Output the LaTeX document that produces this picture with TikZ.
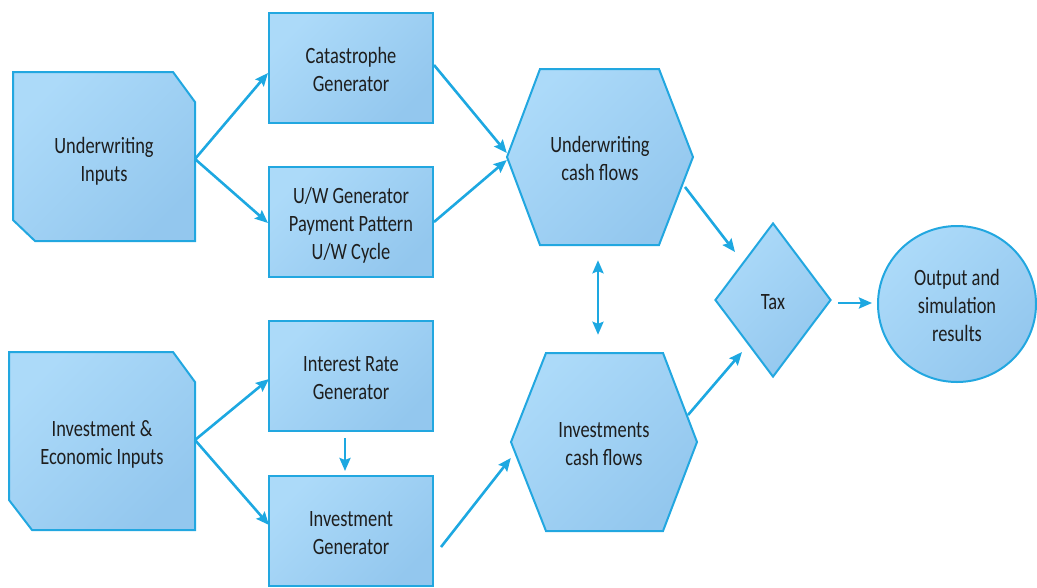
\documentclass[tikz,border=0pt]{standalone}
\usepackage{fontspec}
\setmainfont{Carlito}
\usepackage{graphicx}
\usetikzlibrary{arrows.meta,shapes.geometric,calc}

\definecolor{fillA}{HTML}{ACDAF9}
\definecolor{fillB}{HTML}{93C7EE}
\definecolor{edge}{HTML}{22A7E0}
\definecolor{flow}{HTML}{1DA8E1}
\definecolor{ink}{HTML}{1E1E1E}

% text is set a little taller than wide, and sits slightly low in its block
\newcommand\tallText[1]{\raisebox{0pt}[\dimexpr\height+8pt\relax][\depth]{%
  \scalebox{1}[1.27]{\begin{tabular}{@{}c@{}}#1\end{tabular}}}}

\tikzset{
  blockfill/.style={top color=fillA, bottom color=fillB, shading angle=45},
  block/.style={blockfill, draw=edge, line width=2pt},
  label/.style={inner sep=0pt, text=ink, font=\fontsize{18.4}{22}\selectfont},
  genbox/.style={block, label, rectangle, minimum width=164pt, minimum height=110pt},
  flowarrow/.style={draw=flow, line width=2.6pt,
    -{Stealth[length=13pt,width=11pt,inset=2pt]}},
  bothways/.style={draw=flow, line width=2.6pt,
    {Stealth[length=13pt,width=11pt,inset=2pt]}-{Stealth[length=13pt,width=11pt,inset=2pt]}}
}

\begin{document}
\begin{tikzpicture}[x=1pt,y=-1pt]
\useasboundingbox (0,0) rectangle (1037,587);

% input blocks with two clipped corners
\draw[block] (13,72) -- (173,72) -- (195,102) -- (195,241) -- (35,241) -- (13,220) -- cycle;
\node[label] (uwin) at (104,158) {\tallText{Underwriting\\Inputs}};
\draw[block] (9,352) -- (173,352) -- (195,382) -- (195,530) -- (32,530) -- (9,500) -- cycle;
\node[label] (ecin) at (102,441) {\tallText{Investment \&\\Economic Inputs}};

% generators
\node[genbox] (cat) at (351,68) {\tallText{Catastrophe\\Generator}};
\node[genbox] (uwg) at (351,222) {\tallText{U/W Generator\\Payment Pattern\\U/W Cycle}};
\node[genbox] (irg) at (351,376) {\tallText{Interest Rate\\Generator}};
\node[genbox] (ing) at (351,531) {\tallText{Investment\\Generator}};

% cash-flow hexagons
\draw[block] (507,157) -- (540,69) -- (659,69) -- (693,157) -- (659,245) -- (540,245) -- cycle;
\node[label, minimum width=186pt, minimum height=176pt] (uwcf) at (600,157) {\tallText{Underwriting\\cash flows}};
\draw[block] (511,442) -- (546,353) -- (663,353) -- (697,442) -- (663,531) -- (546,531) -- cycle;
\node[label, minimum width=186pt, minimum height=178pt] (incf) at (604,442) {\tallText{Investments\\cash flows}};

% tax and results
\node[block, label, diamond, minimum width=116pt, minimum height=154pt] (tax) at (773,300) {\tallText{Tax}};
\node[block, label, ellipse, minimum width=158pt, minimum height=156pt] (out) at (957,304) {\tallText{Output and\\simulation\\results}};

% connectors
\draw[flowarrow] ($(uwin.center)+(91,1)$) -- ($(cat.west)+(0,5)$);
\draw[flowarrow] ($(uwin.center)+(91,1)$) -- ($(uwg.west)+(0,1)$);
\draw[flowarrow] ($(cat.east)+(0,-3)$) -- ($(uwcf.west)+(0,-4)$);
\draw[flowarrow] (uwg.east) -- ($(uwcf.west)+(0,3)$);
\draw[flowarrow] ($(uwcf.center)+(85,30)$) -- ($(tax.center)+(-38,-48)$);
\draw[flowarrow] ($(incf.center)+(84,-27)$) -- ($(tax.center)+(-31,52)$);
\draw[flowarrow] ($(tax.east)+(6,3)$) -- ($(out.west)+(-5,-1)$);
\draw[bothways] ($(uwcf.south)+(-2,15)$) -- ($(incf.north)+(-6,-18)$);
\draw[flowarrow] ($(ecin.center)+(93,-1)$) -- ($(irg.west)+(1,3)$);
\draw[flowarrow] ($(ecin.center)+(93,-1)$) -- ($(ing.west)+(1,-6)$);
\draw[flowarrow] ($(irg.south)+(-6,6)$) -- ($(ing.north)+(-6,-4)$);
\draw[flowarrow] ($(ing.east)+(7,16)$) -- ($(incf.west)+(0,16)$);
\end{tikzpicture}
\end{document}
